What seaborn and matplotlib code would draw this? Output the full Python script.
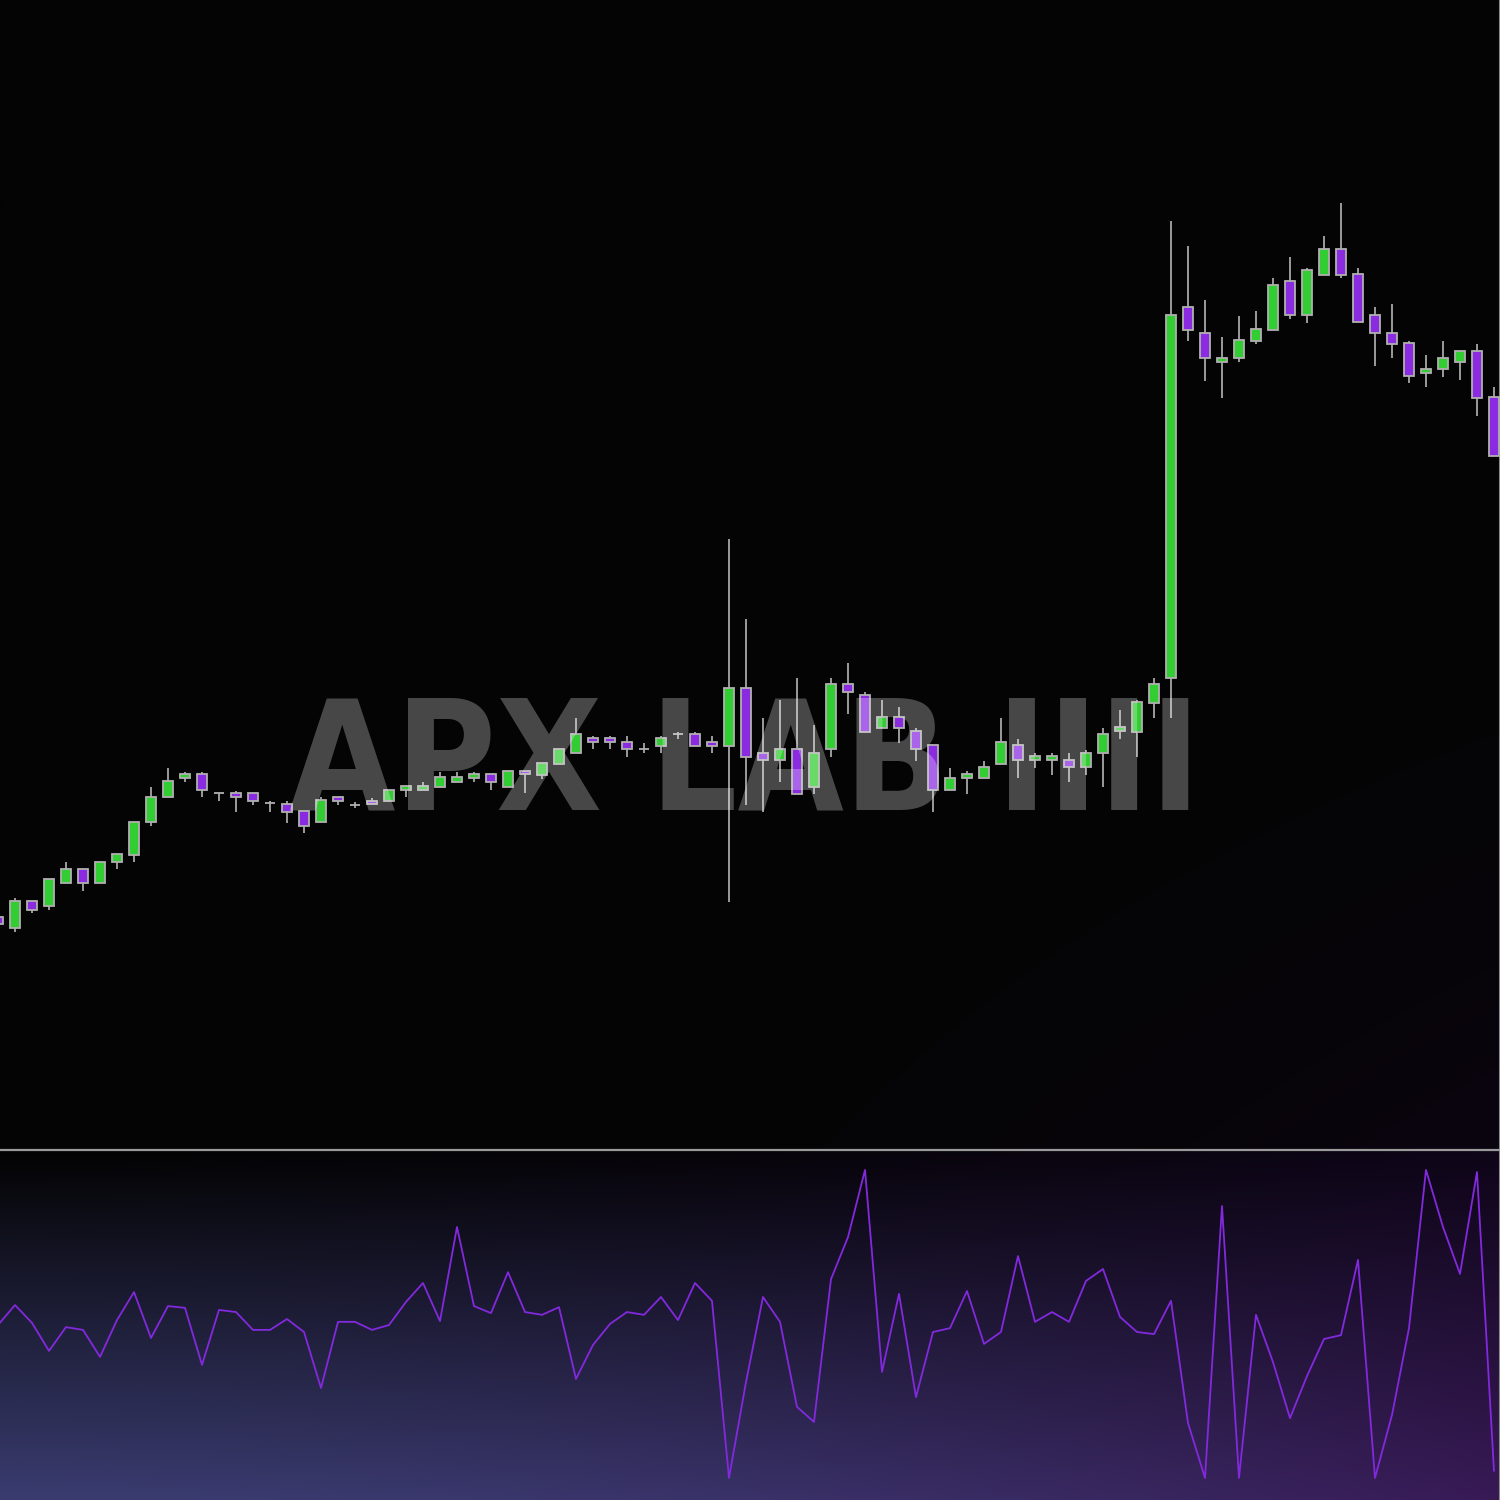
import numpy as np
import pandas as pd
import matplotlib
matplotlib.use("Agg")
import matplotlib.pyplot as plt
import seaborn as sns

# ---------------- data ----------------
opens = [23.3, 22.2, 24.9, 24.4, 26.7, 28.1, 26.7, 28.8, 29.5, 32.8,
         35.3, 37.2, 37.6, 35.7, 35.7, 35.7, 34.7, 34.6, 33.9, 32.8,
         35.3, 34.5, 34.9, 34.9, 36.0, 36.0, 36.3, 36.8, 37.2, 37.6,
         36.3, 37.9, 37.5, 38.6, 39.7, 41.2, 41.2, 40.8, 40.1, 40.4,
         41.6, 41.6, 40.8, 40.4, 46.2, 39.7, 39.0, 40.1, 36.3, 40.1,
         46.6, 45.5, 42.2, 43.3, 41.9, 40.5, 36.0, 37.2, 37.2, 38.6,
         40.5, 39.0, 39.0, 39.0, 38.3, 39.7, 41.9, 41.8, 44.7, 47.2,
         84.3, 81.7, 78.8, 79.2, 80.9, 82.0, 86.9, 83.5, 87.5, 90.1,
         87.6, 83.5, 81.7, 80.7, 77.7, 78.1, 78.8, 79.9, 75.3]
highs = [23.3, 25.2, 24.9, 27.1, 28.8, 28.1, 28.8, 29.6, 32.8, 36.3,
         38.2, 37.8, 37.8, 35.7, 35.9, 35.7, 34.9, 34.9, 33.9, 35.3,
         35.3, 34.8, 35.2, 36.0, 36.4, 36.8, 37.8, 37.8, 37.8, 37.6,
         37.9, 37.9, 38.7, 40.1, 43.2, 41.4, 41.4, 41.4, 40.7, 41.4,
         41.8, 41.8, 41.4, 61.1, 53.1, 43.2, 45.0, 47.2, 42.5, 47.2,
         48.7, 45.8, 45.0, 44.3, 42.2, 40.5, 38.2, 37.9, 38.9, 43.2,
         41.1, 39.7, 39.7, 39.7, 40.0, 42.2, 44.0, 45.0, 47.2, 92.9,
         90.4, 85.0, 81.3, 83.4, 83.9, 87.2, 89.3, 88.2, 91.4, 94.7,
         88.2, 84.3, 84.6, 80.9, 79.5, 80.9, 79.9, 80.6, 76.3]
lows = [22.6, 21.8, 23.7, 24.0, 26.7, 25.9, 26.7, 28.1, 28.8, 32.4,
        35.3, 36.8, 35.3, 34.9, 33.8, 34.5, 33.8, 32.7, 31.7, 32.8,
        34.5, 34.2, 34.6, 34.9, 35.3, 36.0, 36.3, 36.8, 36.8, 36.0,
        36.3, 35.7, 37.1, 38.6, 39.7, 40.1, 40.1, 39.3, 39.7, 39.7,
        41.1, 40.4, 39.7, 24.8, 34.5, 33.8, 36.8, 35.6, 35.6, 39.3,
        43.6, 41.8, 42.2, 40.7, 38.9, 33.8, 36.0, 35.6, 37.2, 38.6,
        37.2, 38.2, 37.5, 36.8, 37.5, 36.3, 41.1, 39.3, 43.2, 43.2,
        80.9, 76.9, 75.2, 78.8, 80.6, 82.0, 83.1, 82.7, 87.5, 87.2,
        82.8, 78.4, 79.2, 76.7, 76.3, 77.3, 77.0, 73.4, 69.4]
closes = [22.6, 24.9, 24.0, 27.1, 28.1, 26.7, 28.8, 29.6, 32.8, 35.3,
          36.9, 37.6, 36.0, 35.7, 35.3, 34.9, 34.7, 33.8, 32.4, 35.0,
          34.9, 34.5, 34.6, 36.0, 36.4, 36.4, 37.3, 37.3, 37.6, 36.8,
          37.9, 37.6, 38.7, 40.1, 41.6, 40.8, 40.8, 40.1, 40.1, 41.2,
          41.6, 40.4, 40.4, 46.2, 39.3, 39.0, 40.1, 35.6, 39.7, 46.6,
          45.8, 41.8, 43.3, 42.2, 40.1, 36.0, 37.2, 37.6, 38.3, 40.8,
          39.0, 39.4, 39.4, 38.3, 39.7, 41.6, 42.3, 44.8, 46.6, 83.5,
          82.0, 79.2, 79.2, 81.0, 82.1, 86.5, 83.5, 88.0, 90.1, 87.5,
          82.8, 81.7, 80.6, 77.4, 78.1, 79.2, 79.9, 75.2, 69.4]
oscillator = [50.0, 55.7, 50.6, 42.6, 49.4, 48.6, 40.9, 51.4, 59.4, 46.3,
              55.4, 54.9, 38.6, 54.3, 53.7, 48.6, 48.6, 51.7, 48.0, 32.0,
              50.9, 50.9, 48.6, 50.0, 56.6, 62.0, 51.1, 78.0, 55.4, 53.4,
              65.1, 53.7, 52.9, 55.1, 34.6, 44.3, 50.3, 53.7, 52.9, 58.0,
              51.4, 62.0, 56.9, 6.3, 33.7, 58.0, 50.9, 26.6, 22.3, 63.1,
              75.1, 94.3, 36.6, 58.9, 29.4, 48.0, 49.1, 59.7, 44.6, 48.0,
              69.7, 50.9, 53.7, 50.9, 62.6, 66.0, 52.3, 48.0, 47.4, 56.9,
              22.0, 6.3, 84.0, 6.3, 52.9, 39.4, 23.4, 35.4, 46.0, 47.1,
              68.6, 6.3, 24.3, 49.1, 94.3, 78.0, 64.6, 93.7, 8.3]
watermark = "APX LAB IIII"

UP = "#32cd32"
DOWN = "#8a2be2"

df = pd.DataFrame({"open": opens, "high": highs, "low": lows,
                   "close": closes, "osc": oscillator})
df["i"] = np.arange(len(df))

sns.set_theme(style="dark")
plt.rcParams["font.family"] = ["DejaVu Sans"]

fig = plt.figure(figsize=(15, 15), dpi=100)
fig.patch.set_facecolor("#040404")

XL = (2 / 17, 1502 / 17)


def gradient(ax, tl, tr, bl, br, xl, yl, pu=1.0, pv=1.0):
    n = 200
    u = (np.linspace(0, 1, n) ** pu)[None, :, None]
    v = (np.linspace(0, 1, n) ** pv)[:, None, None]
    tl, tr, bl, br = (np.array(c, float)[None, None, :] / 255 for c in (tl, tr, bl, br))
    top = tl * (1 - u) + tr * u
    bot = bl * (1 - u) + br * u
    img = top * (1 - v) + bot * v
    ax.imshow(img, extent=[xl[0], xl[1], yl[0], yl[1]], aspect="auto",
              zorder=0, interpolation="bilinear", origin="upper")


# ---------------- price panel ----------------
ax = fig.add_axes([0, 350 / 1500, 1, 1150 / 1500])
ax.set_xlim(*XL)
ax.set_ylim(0, 115)
gradient(ax, (4, 4, 4), (4, 4, 4), (4, 4, 4), (11, 5, 16), XL, (0, 115), pu=3.0, pv=4.0)

colors = [UP if c >= o else DOWN for o, c in zip(df["open"], df["close"])]
ax.vlines(df["i"], df["low"], df["high"], colors="#c4c4c4", linewidth=1.1, zorder=2)
ax.bar(df["i"], df["close"] - df["open"], bottom=df["open"], width=0.6,
       color=colors, edgecolor="#b0b0b0", linewidth=1.3, zorder=3)

ax.set_xticks([])
ax.set_yticks([])
for s in ("left", "top", "bottom"):
    ax.spines[s].set_visible(False)
ax.spines["right"].set_color("#8a8a8a")
ax.spines["right"].set_linewidth(1.5)

# ---------------- oscillator panel ----------------
ax2 = fig.add_axes([0, 0, 1, 350 / 1500])
ax2.set_xlim(*XL)
ax2.set_ylim(0, 100)
gradient(ax2, (3, 3, 3), (14, 5, 24), (58, 60, 112), (56, 26, 86), XL, (0, 100), pu=1.7)
sns.lineplot(data=df, x="i", y="osc", ax=ax2, color="#8329dd", linewidth=1.3, zorder=3)
ax2.set_xlim(*XL)
ax2.set_ylim(0, 100)
ax2.set_xlabel("")
ax2.set_ylabel("")
ax2.set_xticks([])
ax2.set_yticks([])
for s in ("left", "bottom"):
    ax2.spines[s].set_visible(False)
ax2.spines["top"].set_color("#9a9a9a")
ax2.spines["top"].set_linewidth(1.6)
ax2.spines["right"].set_color("#8a8a8a")
ax2.spines["right"].set_linewidth(1.5)

# ---------------- watermark ----------------
fig.text(745 / 1500, 1 - 809 / 1500, watermark, ha="center", va="baseline",
         fontsize=110, fontweight="bold", fontstretch="condensed",
         family=["DejaVu Sans"], color="white", alpha=0.27, zorder=10)

fig.savefig("out.png", dpi=100, facecolor=fig.get_facecolor())
